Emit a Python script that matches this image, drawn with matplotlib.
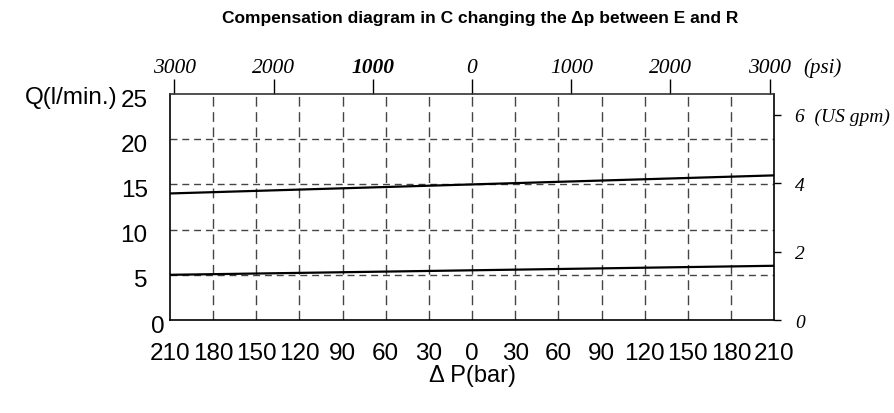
import matplotlib
matplotlib.use("Agg")
import matplotlib.pyplot as plt
import matplotlib.transforms as mtransforms

# Pressure difference between E and R (bar) and compensated flow (l/min)
dp_bar = [-210, 210]
q_upper = [14, 16]
q_lower = [5, 6]

bar_ticks = [-210, -180, -150, -120, -90, -60, -30, 0, 30, 60, 90, 120, 150, 180, 210]
q_ticks = [0, 5, 10, 15, 20, 25]
psi_ticks = [-3000, -2000, -1000, 0, 1000, 2000, 3000]
gpm_ticks = [0, 2, 4, 6]

BAR_TO_PSI = 14.5038
GPM_TO_LPM = 3.785

SANS = "Liberation Sans"
SERIF = "Liberation Serif"

fig = plt.figure(figsize=(8.94, 4.14), dpi=100)
ax = fig.add_axes([0.190, 0.2246, 0.676, 0.5459])

ax.plot(dp_bar, q_upper, color="black", lw=1.6, zorder=3)
ax.plot(dp_bar, q_lower, color="black", lw=1.6, zorder=3)

ax.set_xlim(-210, 210)
ax.set_ylim(0, 25)

# dashed grid
for x in bar_ticks[1:-1]:
    ax.axvline(x, color="#444444", lw=1.0, ls=(0, (7, 4)), zorder=1)
for y in q_ticks[1:-1]:
    ax.axhline(y, color="#444444", lw=1.0, ls=(0, (5, 3.5)), zorder=1)

for s in ax.spines.values():
    s.set_linewidth(1.2)
    s.set_color("black")
ax.spines["top"].set_color("#333333")

ax.set_xticks(bar_ticks)
ax.set_xticklabels([str(abs(v)) for v in bar_ticks], fontfamily=SANS, fontsize=17.5)
ax.tick_params(axis="x", length=0, pad=16)
ax.set_yticks(q_ticks)
ax.set_yticklabels([str(v) for v in q_ticks], fontfamily=SANS, fontsize=17.5)
ax.tick_params(axis="y", length=0, pad=16)
for lbl in ax.get_yticklabels():
    lbl.set_transform(lbl.get_transform() + mtransforms.ScaledTranslation(0, -3 / 100, fig.dpi_scale_trans))

# the "0" on the Q axis sits in the corner
lbl0 = ax.get_yticklabels()[0]
lbl0.set_transform(lbl0.get_transform() + mtransforms.ScaledTranslation(17 / 100, 0, fig.dpi_scale_trans))

ax.set_xlabel("\u0394 P(bar)", fontfamily=SANS, fontsize=17, labelpad=0)
fig.text(117 / 894, 1 - 98 / 414, "Q(l/min.)", ha="right", va="center",
         fontfamily=SANS, fontsize=17.5)

# psi scale along the top
top = ax.secondary_xaxis("top", functions=(lambda b: b * BAR_TO_PSI, lambda p: p / BAR_TO_PSI))
top.set_xticks(psi_ticks)
top_labels = top.set_xticklabels([str(abs(v)) for v in psi_ticks], fontfamily=SERIF,
                                 fontstyle="italic", fontsize=15.5)
top_labels[2].set_fontweight("bold")
top.tick_params(axis="x", length=11, width=1.0, pad=1, direction="out")
top.spines["top"].set_visible(False)
fig.text(803 / 894, 1 - 68 / 414, "(psi)", ha="left", va="center",
         fontfamily=SERIF, fontstyle="italic", fontsize=15)

# US gpm scale on the right
right = ax.secondary_yaxis("right", functions=(lambda q: q / GPM_TO_LPM, lambda g: g * GPM_TO_LPM))
right.set_yticks(gpm_ticks)
right.set_yticklabels(["0", "2", "4", "6  (US gpm)"], fontfamily=SERIF,
                      fontstyle="italic", fontsize=14)
right.tick_params(axis="y", length=5, width=1.0, pad=10, direction="out")
right.spines["right"].set_visible(False)

fig.text(480 / 894, 1 - 18 / 414, "Compensation diagram in C changing the \u0394p between E and R",
         ha="center", va="center", fontfamily=SANS, fontweight="bold", fontsize=12.5)

fig.savefig("out.png", dpi=100)
